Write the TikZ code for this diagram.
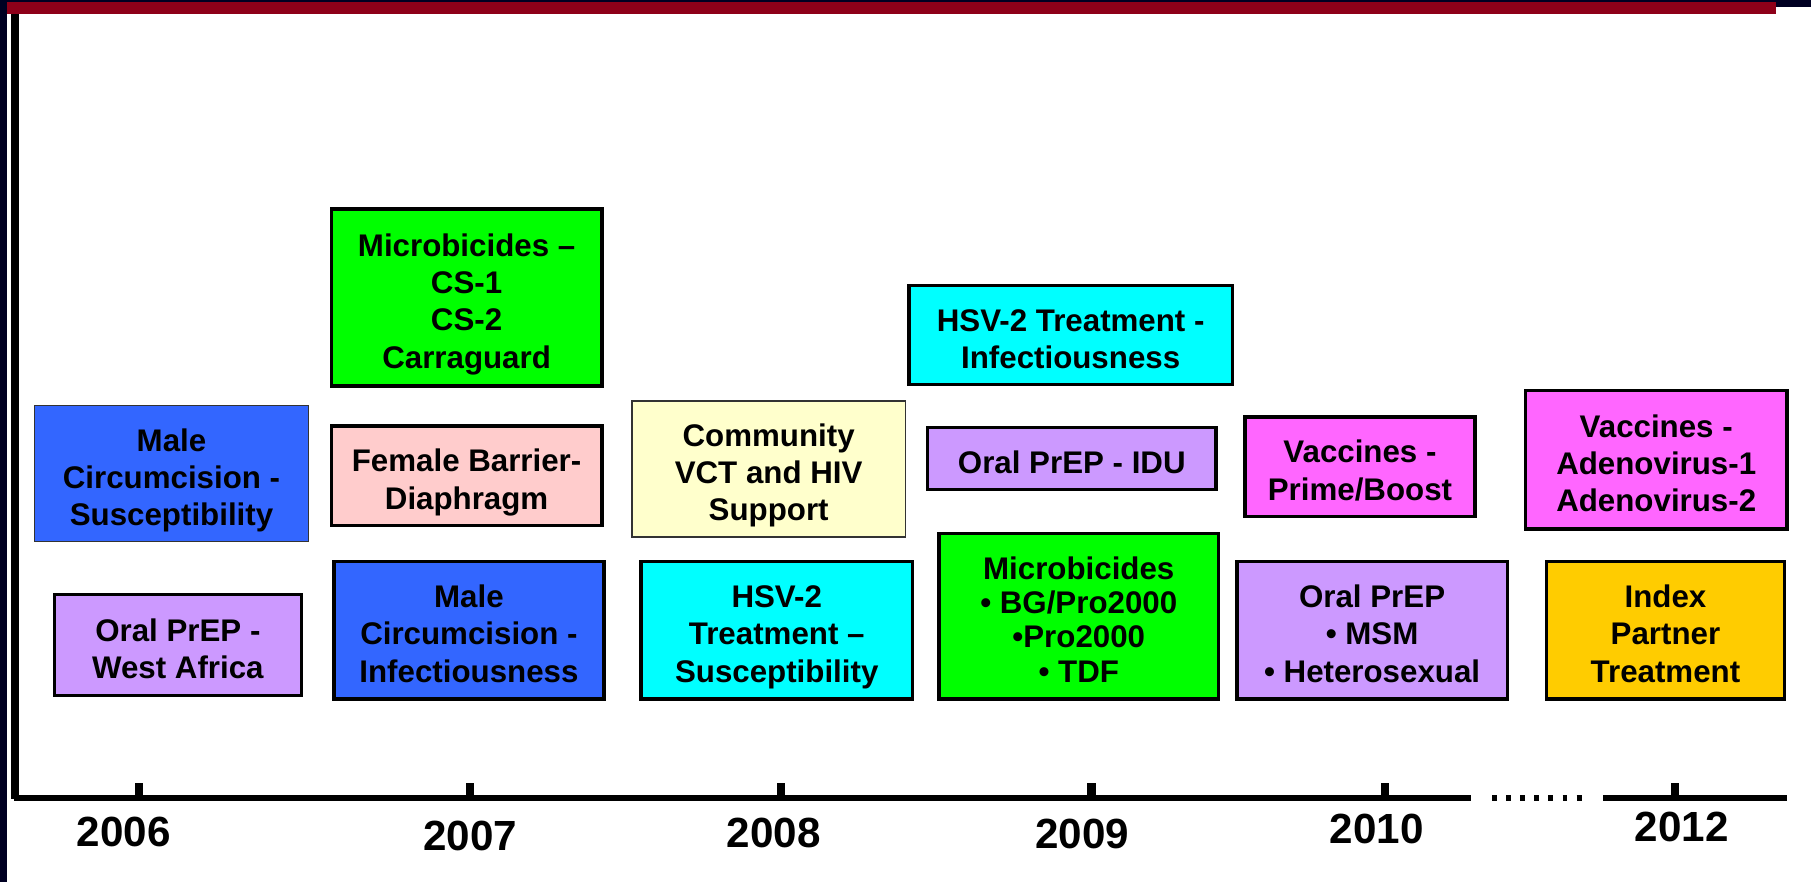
\documentclass[tikz,border=0pt]{standalone}
\usepackage{fontspec}
\setmainfont{Liberation Sans}
\definecolor{navy}{HTML}{000022}
\definecolor{barred}{HTML}{8E0019}
\definecolor{mcblue}{HTML}{3366FF}
\definecolor{prepviolet}{HTML}{CC99FF}
\definecolor{microgreen}{HTML}{00FF00}
\definecolor{barrierpink}{HTML}{FFCCCC}
\definecolor{vctyellow}{HTML}{FFFFCC}
\definecolor{hsvcyan}{HTML}{00FFFF}
\definecolor{vacmagenta}{HTML}{FF66FF}
\definecolor{indexgold}{HTML}{FFCC00}
% struts for the first and last text line of a box
\newcommand{\tstrut}{\rule{0pt}{10.3pt}}
\newcommand{\bstrut}{\rule[-1.9pt]{0pt}{1.9pt}}
\begin{document}
\begin{tikzpicture}[x=0.1155mm, y=-0.1155mm,
    trialbox/.style={draw=black, line width=1pt, align=center, inner sep=0pt,
      font=\fontsize{8.9}{10.6}\selectfont\bfseries},
    thinbox/.style={trialbox, draw=black!80, line width=0.45pt},
    yearlabel/.style={font=\fontsize{12}{14}\selectfont\bfseries}]
    \useasboundingbox (0,0) rectangle (1568,764);
    % Frame
    \fill[navy] (0,0) rectangle (1568,2);
    \fill[navy] (1538,0) rectangle (1568,6);
    \fill[barred] (0,2) rectangle (1538,12);
    \fill[navy] (0,0) rectangle (6,764);
    % Axes
    \draw[line width=2pt] (13,12) -- (13,692);
    \draw[line width=1.5pt] (12,691) -- (1274,691);
    \draw[line width=1.5pt, dash pattern=on 1.4pt off 2.6pt] (1292,691) -- (1375,691);
    \draw[line width=1.5pt] (1388,691) -- (1547,691);
    \foreach \x in {120,407,676,945,1199,1450}
        \draw[line width=2.3pt] (\x,678) -- (\x,691);
    \foreach \x/\y/\yr in {107/720/2006, 407/724/2007, 670/721/2008, 937/722/2009, 1192/718/2010, 1456/716/2012}
        \node[yearlabel] (y\yr) at (\x,\y) {\yr};
    % 2006
    \node[thinbox, fill=mcblue, minimum width=27.37mm, minimum height=13.63mm] (mcsus) at (148.5,410) {\tstrut Male\\Circumcision -\\Susceptibility\bstrut};
    \node[trialbox, line width=0.8pt, fill=prepviolet, minimum width=24.72mm, minimum height=10.05mm] (prepwa) at (154,558.5) {\tstrut Oral PrEP -\\West Africa\bstrut};
    % 2007
    \node[trialbox, fill=microgreen, minimum width=27.03mm, minimum height=17.67mm] (microcs) at (404,257.5) {\tstrut Microbicides --\\CS-1\\CS-2\\Carraguard\bstrut};
    \node[trialbox, fill=barrierpink, minimum width=27.03mm, minimum height=9.93mm] (barrier) at (404,412) {\tstrut Female Barrier-\\Diaphragm\bstrut};
    \node[trialbox, fill=mcblue, minimum width=27.03mm, minimum height=13.74mm] (mcinf) at (406,545.5) {\tstrut Male\\Circumcision -\\Infectiousness\bstrut};
    % 2008
    \node[thinbox, fill=vctyellow, minimum width=27.37mm, minimum height=13.63mm] (vct) at (665.5,406) {\tstrut Community\\VCT and HIV\\Support\bstrut};
    \node[trialbox, fill=hsvcyan, minimum width=27.14mm, minimum height=13.74mm] (hsvsus) at (672.5,545.5) {\tstrut HSV-2\\Treatment --\\Susceptibility\bstrut};
    % 2009
    \node[trialbox, fill=hsvcyan, minimum width=32.34mm, minimum height=9.93mm] (hsvinf) at (927,290) {\tstrut HSV-2 Treatment -\\Infectiousness\bstrut};
    \node[trialbox, fill=prepviolet, minimum width=28.88mm, minimum height=6.24mm] (prepidu) at (928,397) {\tstrut Oral PrEP - IDU\bstrut};
    \node[trialbox, font=\fontsize{8.9}{9.7}\selectfont\bfseries, fill=microgreen, minimum width=27.95mm, minimum height=16.52mm] (micro09) at (934,533.5) {\tstrut Microbicides\\• BG/Pro2000\\•Pro2000\\• TDF\bstrut};
    % 2010
    \node[trialbox, fill=vacmagenta, minimum width=22.98mm, minimum height=9.93mm] (vacpb) at (1177.5,404) {\tstrut Vaccines -\\Prime/Boost\bstrut};
    \node[trialbox, fill=prepviolet, minimum width=27.03mm, minimum height=13.74mm] (prepmsm) at (1188,545.5) {\tstrut Oral PrEP\\• MSM\\• Heterosexual\bstrut};
    % 2012
    \node[trialbox, fill=vacmagenta, minimum width=26.10mm, minimum height=13.86mm] (vacadeno) at (1434,398) {\tstrut Vaccines -\\Adenovirus-1\\Adenovirus-2\bstrut};
    \node[trialbox, fill=indexgold, minimum width=23.79mm, minimum height=13.74mm] (index) at (1442,545.5) {\tstrut Index\\Partner\\Treatment\bstrut};
\end{tikzpicture}
\end{document}
